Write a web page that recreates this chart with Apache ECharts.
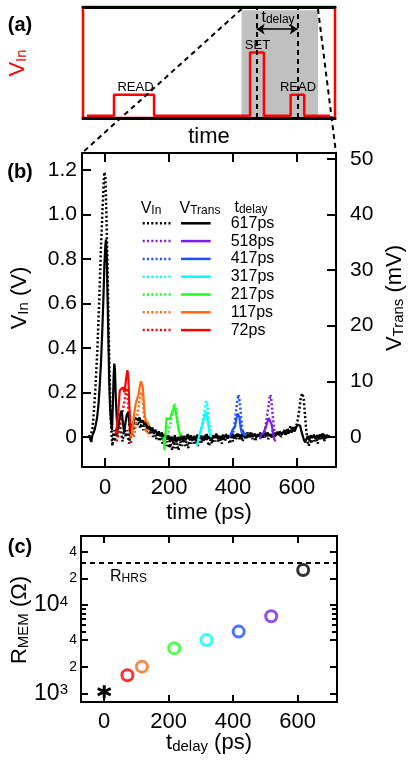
<!DOCTYPE html>
<html>
<head>
<meta charset="utf-8">
<title>V_In / V_Trans / R_MEM</title>
<script src="https://cdn.jsdelivr.net/npm/echarts@6.0.0/dist/echarts.min.js"></script>
<style>
  html, body { margin: 0; padding: 0; background: #fff; }
  #chart { width: 415px; height: 765px; }
</style>
</head>
<body>
<div id="chart"></div>
<script>
// ---------------- data ----------------
// read delays, legend order (top to bottom)
const delays = [617, 518, 417, 317, 217, 117, 72];
const delayLabels = ['617ps', '518ps', '417ps', '317ps', '217ps', '117ps', '72ps'];
const delayColors = ['#000000', '#7b1fe6', '#1f4fff', '#00ffff', '#1eff1e', '#ff6a13', '#ff0000'];

// (c) memristor resistance after each delay
const rMem = [24900, 7450, 4990, 4000, 3240, 2000, 1600];
const rInitial = [0, 1040];
const rHRS = 30000;

// (a) schematic pulse train (arbitrary time units 0..100)
const pulseT = [1.6, 12.3, 12.3, 28.2, 28.2, 66.3, 66.3, 71.8, 71.8, 82.4, 82.4, 87.8, 87.8, 98];
const pulseV = [0.02, 0.02, 0.21, 0.21, 0.02, 0.02, 0.59, 0.59, 0.02, 0.02, 0.21, 0.21, 0.02, 0.02];
const gateStart = 62.9, gateEnd = 93.3;
const setMark = 68.9, readMark = 85.2;

// tick labels
const timeTicks = [0, 200, 400, 600];
const vInTicks = [0, 0.2, 0.4, 0.6, 0.8, 1.0, 1.2];
const vTransTicks = [0, 10, 20, 30, 40, 50];
const rTicks = [1000, 2000, 4000, 10000, 20000, 40000];
const rMinorTicks = [5000, 6000, 7000, 8000, 9000];

// (b) V_In (V) and V_Trans (mV) vs time (ps), full trace for 617ps
const vIn617 = [[-50,0.00],[-45,0.01],[-40,0.03],[-36,0.09],[-30,0.22],[-24,0.39],[-18,0.62],[-13,0.84],[-8,1.02],[-4,1.15],[-2,1.19],[1,1.17],[4,1.02],[8,0.75],[11,0.50],[14,0.30],[17,0.12],[20,0.02],[23,-0.04],[27,0.03],[31,-0.02],[35,0.04],[40,0.00],[45,0.07],[50,0.02],[55,-0.02],[60,0.04],[65,0.00],[70,0.03],[75,-0.03],[80,0.02],[85,0.06],[90,0.03],[95,0.07],[100,0.05],[105,0.08],[110,0.04],[115,0.07],[120,0.03],[125,0.06],[130,0.02],[135,0.05],[140,0.01],[145,0.04],[150,0.00],[155,0.03],[160,-0.01],[165,0.02],[170,-0.02],[175,0.01],[180,-0.03],[185,-0.01],[190,-0.04],[195,-0.02],[200,-0.05],[205,-0.03],[210,-0.06],[215,-0.02],[220,-0.05],[225,-0.03],[230,-0.06],[235,-0.02],[240,-0.04],[245,-0.01],[250,-0.04],[255,-0.02],[260,-0.05],[265,-0.01],[270,-0.03],[275,0.00],[280,-0.03],[285,-0.01],[290,-0.04],[295,-0.02],[300,-0.03],[305,0.00],[310,-0.02],[315,0.01],[320,-0.02],[325,-0.04],[330,-0.01],[335,-0.03],[340,0.00],[345,-0.02],[350,0.01],[355,-0.02],[360,-0.01],[365,-0.03],[370,0.00],[375,-0.02],[380,0.01],[385,-0.01],[390,-0.03],[395,0.00],[400,-0.02],[405,0.01],[410,-0.01],[415,0.02],[420,-0.01],[425,0.01],[430,-0.02],[435,0.01],[440,-0.01],[445,0.02],[450,0.00],[455,0.02],[460,-0.01],[465,0.01],[470,-0.02],[475,0.01],[480,0.00],[485,0.02],[490,-0.01],[495,0.01],[500,0.00],[505,0.02],[510,-0.01],[515,0.02],[520,0.00],[525,0.03],[530,0.00],[535,0.02],[540,0.01],[545,0.03],[550,0.00],[555,0.02],[560,0.03],[565,0.01],[570,0.04],[575,0.02],[580,0.05],[585,0.03],[590,0.05],[595,0.04],[600,0.06],[604,0.09],[608,0.13],[612,0.18],[617,0.196],[621,0.17],[625,0.10],[629,0.03],[633,-0.02],[637,-0.04],[641,0.00],[645,-0.03],[650,0.01],[655,-0.02],[660,0.00],[665,-0.03],[670,0.01],[675,-0.01],[680,0.02],[685,-0.02],[690,0.01],[695,-0.01],[700,0.01]];
const vTrans617 = [[-50,0.3],[-46,0.0],[-43,-0.9],[-40,0.2],[-37,0.4],[-33,1.2],[-29,2.2],[-25,3.4],[-21,5.5],[-17,8.8],[-13,13.0],[-9,18.5],[-5,25.0],[-2,31.0],[1,34.5],[3,35.5],[5,33.0],[8,25.0],[11,16.0],[13,10.0],[16,5.0],[19,2.5],[22,1.2],[24,5.0],[27,11.0],[29,13.2],[31,12.0],[34,6.5],[37,3.0],[40,1.2],[44,2.8],[48,4.2],[52,4.7],[56,2.5],[60,0.8],[64,2.6],[68,4.0],[73,4.4],[77,2.0],[81,0.5],[85,1.6],[89,2.6],[93,3.4],[98,3.7],[103,3.1],[108,3.5],[113,2.6],[118,3.0],[123,2.1],[128,2.6],[133,1.5],[138,2.0],[143,1.1],[148,1.7],[153,0.7],[158,1.3],[163,0.3],[168,1.0],[173,0.1],[178,0.8],[183,-0.3],[188,0.5],[193,-0.5],[198,0.3],[203,-0.9],[208,0.1],[213,-1.1],[218,0.3],[223,-1.0],[228,0.0],[233,-0.7],[238,0.4],[243,-0.8],[248,0.2],[253,-0.6],[258,0.5],[263,-0.4],[268,0.3],[273,-0.7],[278,0.2],[283,-0.5],[288,0.4],[293,-0.3],[298,0.3],[303,-0.6],[308,0.2],[313,-0.4],[318,0.5],[323,-0.3],[328,0.1],[333,-0.6],[338,0.3],[343,-0.2],[348,0.6],[353,-0.4],[358,0.2],[363,-0.5],[368,0.4],[373,-0.2],[378,0.5],[383,-0.3],[388,0.3],[393,-0.1],[398,0.6],[403,-0.2],[408,0.4],[413,0.0],[418,0.5],[423,-0.3],[428,0.4],[433,0.0],[438,0.6],[443,-0.2],[448,0.5],[453,0.0],[458,0.7],[463,0.1],[468,0.6],[473,-0.1],[478,0.5],[483,0.1],[488,0.6],[493,0.0],[498,0.7],[503,0.2],[508,0.8],[513,0.3],[518,0.6],[523,0.0],[528,0.7],[533,0.2],[538,0.9],[543,0.3],[548,0.8],[553,0.4],[558,1.0],[563,0.5],[568,1.1],[573,0.6],[578,1.2],[583,0.8],[588,1.4],[593,1.0],[598,1.8],[602,2.2],[606,2.5],[610,2.0],[614,1.0],[618,0.2],[622,-0.6],[626,-1.0],[630,-0.3],[634,0.2],[638,-0.5],[643,0.3],[648,-0.2],[653,0.4],[658,-0.4],[663,0.3],[668,-0.3],[673,0.4],[678,-0.2],[683,0.5],[688,-0.3],[693,0.4],[698,-0.1],[702,0.3]];

// read pulses for the other delays (only the part not hidden under the black trace)
const vIn518 = [[496,0.00],[500,0.03],[504,0.07],[508,0.11],[512,0.15],[516,0.19],[519,0.18],[522,0.13],[526,0.07],[530,0.02],[534,0.00]];
const vTrans518 = [[484,-0.4],[488,0.4],[492,0.2],[496,0.8],[500,1.4],[504,2.0],[508,2.8],[512,3.4],[515,3.6],[518,3.2],[521,2.2],[525,0.8],[529,-0.4],[533,-0.8]];
const vIn417 = [[398,0.00],[402,0.03],[406,0.07],[410,0.12],[414,0.17],[417,0.19],[420,0.17],[424,0.11],[428,0.05],[432,0.01],[436,0.00]];
const vTrans417 = [[390,0.0],[394,0.6],[398,1.2],[402,1.0],[406,1.8],[410,3.0],[414,4.2],[417,4.5],[420,3.6],[424,1.6],[428,0.6],[432,1.0],[436,0.2],[440,0.6]];
const vIn317 = [[295,0.00],[300,0.03],[304,0.06],[308,0.10],[312,0.13],[316,0.16],[319,0.15],[323,0.10],[327,0.05],[331,0.01],[335,0.00]];
const vTrans317 = [[287,-1.6],[291,-0.6],[295,0.4],[299,1.2],[303,2.0],[307,2.8],[311,3.8],[315,4.6],[318,4.4],[321,3.0],[325,1.2],[329,0.2],[333,0.0]];
const vIn217 = [[196,0.00],[200,0.03],[204,0.06],[208,0.09],[212,0.12],[216,0.15],[220,0.14],[224,0.10],[228,0.06],[232,0.02],[236,0.00]];
const vTrans217 = [[183,0.0],[186,-2.4],[189,0.5],[192,3.4],[196,3.6],[201,3.2],[205,3.6],[209,4.4],[213,4.8],[217,5.4],[221,4.6],[225,3.0],[229,1.6],[233,0.6],[238,0.2]];
const vIn117 = [[90,0.00],[95,0.04],[100,0.09],[104,0.13],[108,0.16],[112,0.20],[116,0.19],[120,0.13],[124,0.06],[128,0.02],[132,0.04],[136,0.00]];
const vTrans117 = [[80,0.0],[84,0.8],[88,2.5],[92,4.5],[96,6.0],[100,6.8],[104,7.5],[108,8.8],[112,10.0],[115,10.2],[118,9.0],[121,6.5],[124,4.0],[127,3.0],[131,3.2],[135,2.4],[139,2.0]];
const vIn72 = [[36,-0.02],[42,0.02],[48,0.06],[53,0.10],[58,0.14],[63,0.18],[67,0.22],[70,0.20],[73,0.13],[76,0.05],[79,0.00],[82,-0.03]];
const vTrans72 = [[33,0.5],[37,1.8],[42,5.0],[46,8.4],[52,8.6],[56,8.9],[61,8.0],[66,10.5],[70,12.0],[73,10.5],[76,5.5],[79,2.5],[83,1.0],[87,0.3]];

const vInTraces = { 617: vIn617, 518: vIn518, 417: vIn417, 317: vIn317, 217: vIn217, 117: vIn117, 72: vIn72 };
const vTransTraces = { 617: vTrans617, 518: vTrans518, 417: vTrans417, 317: vTrans317, 217: vTrans217, 117: vTrans117, 72: vTrans72 };

// ---------------- chart ----------------
const FONT = '"Liberation Sans", Arial, sans-serif';
const chart = echarts.init(document.getElementById('chart'));

function richText(x, y, text, rich, extra) {
  return Object.assign({
    type: 'text', x: x, y: y, z: 50,
    style: { text: text, rich: rich, fontFamily: FONT, fill: '#000', align: 'center', verticalAlign: 'middle' }
  }, extra || {});
}
function subRich(big, small, color) {
  const c = color || '#000';
  return {
    m: { fontSize: big, lineHeight: big, fontFamily: FONT, fill: c, color: c },
    s: { fontSize: small, lineHeight: Math.round(big * 0.35), fontFamily: FONT, fill: c, color: c, verticalAlign: 'bottom' }
  };
}

const hidden = { show: false };
function frameX(grid, pos, min, max, ticks) {
  return {
    gridIndex: grid, type: 'value', position: pos, min: min, max: max,
    axisLine: { show: true, onZero: false, lineStyle: { color: '#000', width: 2 } },
    axisTick: ticks ? { show: true, inside: true, length: 9, customValues: ticks, lineStyle: { color: '#000', width: 2 } } : hidden,
    axisLabel: hidden, splitLine: hidden
  };
}

// series
const series = [];
// (a) schematic
series.push({
  type: 'line', xAxisIndex: 0, yAxisIndex: 0, symbol: 'none', z: 3,
  data: pulseT.map((t, i) => [t, pulseV[i]]),
  lineStyle: { color: '#ff0000', width: 2.5 },
  markArea: { silent: true, itemStyle: { color: '#c0c0c0' },
    data: [[{ xAxis: gateStart, yAxis: 0.01 }, { xAxis: gateEnd, yAxis: 0.97 }]] },
  markLine: { silent: true, symbol: ['none', 'none'], label: { show: false },
    lineStyle: { type: [5, 4], color: '#000', width: 2 },
    data: [
      { xAxis: setMark }, { xAxis: readMark },
      [{ coord: [setMark, 0.8], symbol: 'arrow', symbolSize: 8, lineStyle: { type: 'solid', width: 1.5 } },
       { coord: [readMark, 0.8], symbol: 'arrow', symbolSize: 8 }]
    ] }
});
// (b) traces, black first, colours on top
const drawOrder = [617, 72, 117, 217, 317, 417, 518];
drawOrder.forEach(function (d) {
  const i = delays.indexOf(d);
  series.push({
    name: 'V_In ' + delayLabels[i], type: 'line', xAxisIndex: 2, yAxisIndex: 1, symbol: 'none', z: 3,
    data: vInTraces[d], lineStyle: { color: delayColors[i], width: 2.5, type: [2, 2.3], cap: 'butt' }
  });
  series.push({
    name: 'V_Trans ' + delayLabels[i], type: 'line', xAxisIndex: 2, yAxisIndex: 2, symbol: 'none', z: 4,
    data: vTransTraces[d], lineStyle: { color: delayColors[i], width: 2.2 }
  });
});
// (c) resistance
series.push({
  type: 'scatter', xAxisIndex: 4, yAxisIndex: 3, symbol: 'circle', symbolSize: 11, z: 5,
  data: delays.map((d, i) => ({ value: [d, rMem[i]], itemStyle: { borderColor: delayColors[i] } })),
  itemStyle: { color: 'rgba(0,0,0,0)', borderWidth: 3 },
  markLine: { silent: true, symbol: ['none', 'none'], label: { show: false },
    lineStyle: { type: [5, 4], color: '#000', width: 2 }, data: [{ yAxis: rHRS }] }
});
series.push({
  type: 'scatter', xAxisIndex: 4, yAxisIndex: 3, z: 5,
  symbol: 'path://M10,0 L10,20 M1.3,5 L18.7,15 M1.3,15 L18.7,5', symbolSize: 13,
  data: [rInitial], itemStyle: { color: 'none', borderColor: '#000', borderWidth: 3, opacity: 1 }
});

// legend drawn as graphic
const graphic = [];
graphic.push(richText(151, 209, '{m|V}{s|In}', subRich(16, 12)));
graphic.push(richText(200, 209, '{m|V}{s|Trans}', subRich(16, 12)));
graphic.push(richText(251, 208, '{m|t}{s|delay}', subRich(16, 12)));
delayLabels.forEach(function (lab, i) {
  const y = 223.3 + i * 17.8;
  graphic.push({ type: 'line', z: 50, shape: { x1: 142.7, y1: y, x2: 170.7, y2: y },
    style: { stroke: delayColors[i], lineWidth: 2.5, lineDash: [2, 2.3] } });
  graphic.push({ type: 'line', z: 50, shape: { x1: 181, y1: y, x2: 210.7, y2: y },
    style: { stroke: delayColors[i], lineWidth: 2.5 } });
  graphic.push({ type: 'text', z: 50, x: 230.7, y: y,
    style: { text: lab, fontSize: 16, fontFamily: FONT, fill: '#000', align: 'left', verticalAlign: 'middle' } });
});
// panel letters and titles
['(a)', '(b)', '(c)'].forEach(function (t, i) {
  graphic.push({ type: 'text', z: 50, x: 20, y: [25, 172, 547][i],
    style: { text: t, fontSize: 20, fontWeight: 'bold', fontFamily: FONT, fill: '#000', align: 'center', verticalAlign: 'middle' } });
});
const vInA = richText(18, 63, '{m|V}{s|In}', subRich(22, 15, '#ff0000'), { rotation: Math.PI / 2 });
vInA.style.fill = '#ff0000';
graphic.push(vInA);
graphic.push(richText(209, 137, '{m|time}', subRich(22, 15)));
graphic.push(richText(135.5, 87, '{r|READ}', { r: { fontSize: 13, fontFamily: FONT } }));
graphic.push(richText(257.5, 45, '{r|SET}', { r: { fontSize: 13, fontFamily: FONT } }));
graphic.push(richText(298, 87, '{r|READ}', { r: { fontSize: 13, fontFamily: FONT } }));
graphic.push(richText(278, 18, '{m|t}{s|delay}', subRich(16, 12)));
graphic.push(richText(20, 298, '{m|V}{s|In}{m| (V)}', subRich(22, 15), { rotation: Math.PI / 2 }));
graphic.push(richText(395, 298, '{m|V}{s|Trans}{m| (mV)}', subRich(22, 15), { rotation: Math.PI / 2 }));
graphic.push(richText(209, 513, '{m|time (ps)}', subRich(22, 15)));
graphic.push(richText(20, 620, '{m|R}{s|MEM}{m| (Ω)}', subRich(22, 15), { rotation: Math.PI / 2 }));
graphic.push(richText(209, 743, '{m|t}{s|delay}{m| (ps)}', subRich(22, 15)));
const hrs = richText(110, 577, '{m|R}{s|HRS}', subRich(16, 12));
hrs.style.align = 'left';
graphic.push(hrs);
// zoom connectors from (a) to (b)
graphic.push({ type: 'line', z: 60, shape: { x1: 241.7, y1: 9, x2: 82, y2: 153 },
  style: { stroke: '#000', lineWidth: 2, lineDash: [5, 4] } });
graphic.push({ type: 'line', z: 60, shape: { x1: 318, y1: 9, x2: 336, y2: 153 },
  style: { stroke: '#000', lineWidth: 2, lineDash: [5, 4] } });

function logLabel(v) {
  const e = Math.round(Math.log10(v));
  if (Math.abs(v / Math.pow(10, e) - 1) < 1e-6) return '{b|10}{p|' + e + '}';
  return '{s|' + Math.round(v / Math.pow(10, Math.floor(Math.log10(v) + 1e-9))) + '}';
}
function logAxis(pos, ticks, len, withLabels) {
  return {
    gridIndex: 2, type: 'log', logBase: 10, position: pos, min: 796, max: 60400,
    axisLine: { show: true, onZero: false, lineStyle: { color: '#000', width: 2 } },
    axisTick: { show: true, inside: true, length: len, customValues: ticks, lineStyle: { color: '#000', width: 2 } },
    axisLabel: withLabels ? {
      show: true, customValues: ticks, margin: 4, formatter: logLabel, fontFamily: FONT, color: '#000',
      rich: {
        b: { fontSize: 23, lineHeight: 22, fontFamily: FONT, color: '#000' },
        p: { fontSize: 15, lineHeight: 8, fontFamily: FONT, color: '#000', verticalAlign: 'top', padding: [0, 9, 0, 0] },
        s: { fontSize: 14, fontFamily: FONT, color: '#000' }
      }
    } : hidden,
    splitLine: hidden
  };
}

const option = {
  animation: false,
  backgroundColor: '#fff',
  grid: [
    { left: 83, top: 7, width: 252, height: 111, show: true, borderColor: '#ff0000', borderWidth: 2.5, backgroundColor: '#fff', outerBoundsMode: 'none' },
    { left: 82, top: 153, width: 254, height: 314, outerBoundsMode: 'none' },
    { left: 81, top: 536, width: 256, height: 166, outerBoundsMode: 'none' }
  ],
  xAxis: [
    Object.assign(frameX(0, 'bottom', 0, 100, null), { axisLine: { show: true, onZero: false, lineStyle: { color: '#000', width: 3 } } }),
    Object.assign(frameX(0, 'top', 0, 100, null), { axisLine: { show: true, onZero: false, lineStyle: { color: '#000', width: 3 } } }),
    Object.assign(frameX(1, 'bottom', -72, 722, timeTicks), {
      axisLabel: { show: true, customValues: timeTicks, margin: 10, fontSize: 22, fontFamily: FONT, color: '#000' } }),
    frameX(1, 'top', -72, 722, timeTicks),
    Object.assign(frameX(2, 'bottom', -72, 722, timeTicks), {
      axisTick: { show: true, inside: true, length: 7, customValues: timeTicks, lineStyle: { color: '#000', width: 2 } },
      axisLabel: { show: true, customValues: timeTicks, margin: 9, fontSize: 22, fontFamily: FONT, color: '#000' } }),
    Object.assign(frameX(2, 'top', -72, 722, timeTicks), {
      axisTick: { show: true, inside: true, length: 7, customValues: timeTicks, lineStyle: { color: '#000', width: 2 } } })
  ],
  yAxis: [
    { gridIndex: 0, type: 'value', min: 0, max: 1, show: false },
    { gridIndex: 1, type: 'value', position: 'left', min: -0.135, max: 1.276,
      axisLine: { show: true, onZero: false, lineStyle: { color: '#000', width: 2 } },
      axisTick: { show: true, inside: true, length: 9, customValues: vInTicks, lineStyle: { color: '#000', width: 2 } },
      axisLabel: { show: true, customValues: vInTicks, margin: 5, fontSize: 21, fontFamily: FONT, color: '#000',
        formatter: v => (v === 0 ? '0' : v.toFixed(1)) },
      splitLine: hidden },
    { gridIndex: 1, type: 'value', position: 'right', min: -5.4, max: 51.04,
      axisLine: { show: true, onZero: false, lineStyle: { color: '#000', width: 2 } },
      axisTick: { show: true, inside: true, length: 9, customValues: vTransTicks, lineStyle: { color: '#000', width: 2 } },
      axisLabel: { show: true, customValues: vTransTicks, margin: 14, fontSize: 21, fontFamily: FONT, color: '#000' },
      splitLine: hidden },
    logAxis('left', rTicks, 7, true),
    logAxis('right', rTicks, 7, false),
    logAxis('left', rMinorTicks, 5, false),
    logAxis('right', rMinorTicks, 5, false)
  ],
  series: series,
  graphic: graphic
};
chart.setOption(option);
</script>
</body>
</html>
